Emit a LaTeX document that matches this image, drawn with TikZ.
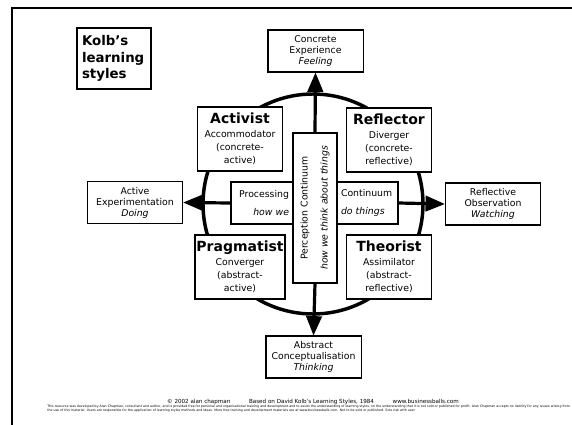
\documentclass[tikz,border=0pt]{standalone}
\usepackage{fontspec}
\setmainfont{DejaVu Sans}
\usepackage{tikz}
\usetikzlibrary{shapes,arrows,positioning}
\tikzstyle{stage} = [rectangle, draw=black, line width=1pt, fill=white, text=black, text centered, align=center, font=\fontsize{7}{8.3}\selectfont, minimum width=71.5pt, minimum height=31.5pt, inner sep=1pt]
\tikzstyle{learner} = [rectangle, draw=black, line width=1pt, fill=white, text=black, align=center, font=\fontsize{7}{10}\selectfont, minimum width=63.75pt, minimum height=48pt, inner sep=1pt]
\tikzstyle{halfbox} = [rectangle, draw=black, line width=1pt, fill=white, text=black, font=\fontsize{7}{10}\selectfont, minimum height=31.5pt, inner sep=3pt]
\tikzstyle{textonly} = [draw=none, fill=none, text centered, inner sep=0pt]
\tikzstyle{tedge}  = [draw, line width=2.4pt, >=triangle 45, ->]
\newcommand{\rolename}[1]{{\fontsize{10.5}{12}\selectfont\bfseries #1}\\}

\begin{document}
\begin{tikzpicture}[x=0.75pt, y=-0.75pt]
\useasboundingbox (0,0) rectangle (572,425);

% page frame
\draw[line width=1.5pt] (12,425) -- (12,8) -- (572,8);

% cycle ring =============================
\coordinate (hub) at (313,204);
\draw[line width=2.6pt] (hub) circle [radius=82.5pt];

% title
\node[rectangle, draw=black, line width=1pt, align=left, text width=48pt, minimum height=45.75pt, inner sep=3.75pt, font=\fontsize{10}{12.5}\selectfont\bfseries] (title) at (114,58.5) {Kolb{\char"27}s\\learning\\styles};

% stages
\node[stage] (ce) at (315.5,51) {Concrete\\Experience\\\textit{Feeling}};
\node[stage] (ae) at (135,202.5) {Active\\Experimentation\\\textit{Doing}};
\node[stage] (ro) at (493,204) {Reflective\\Observation\\\textit{Watching}};
\node[stage] (ac) at (313.5,357) {Abstract\\Conceptualisation\\\textit{Thinking}};

% learning styles
\node[learner] (activist) at (240,139) {\rolename{Activist}Accommodator\\(concrete-\\active)};
\node[learner] (reflector) at (389,140) {\rolename{Reflector}Diverger\\(concrete-\\reflective)};
\node[learner] (pragmatist) at (240,267) {\rolename{Pragmatist}Converger\\(abstract-\\active)};
\node[learner] (theorist) at (389,267) {\rolename{Theorist}Assimilator\\(abstract-\\reflective)};

% continua
\node[rectangle, draw=black, line width=1pt, fill=white, rotate=90, align=center, minimum width=112.5pt, minimum height=33pt, inner sep=1pt, font=\fontsize{7}{10}\selectfont] (perception) at (315,208) {Perception Continuum\\[5pt]\textit{how we think about things}};
\node[halfbox, align=right, text width=40.5pt] (processing) at (262,203) {Processing\\[4pt]\textit{how we}};
\node[halfbox, align=left, text width=39.75pt] (doing) at (367.5,203) {Continuum\\[4pt]\textit{do things}};

% footer
\node[textonly, font=\fontsize{4.2}{5}\selectfont] (credit) at (313,402) {\copyright{} 2002 alan chapman\hspace{14pt}Based on David Kolb{\char"27}s Learning Styles, 1984\hspace{14pt}www.businessballs.com};
\node[textonly, anchor=north west, text width=392pt, align=justify, font=\fontsize{2.4}{3.4}\selectfont] (terms) at (47,404.5) {This resource was developed by Alan Chapman, consultant and author, and is provided free for personal and organisational training and development and to assist the understanding of learning styles, on the understanding that it is not sold or published for profit. Alan Chapman accepts no liability for any issues arising from the use of this material. Users are responsible for the application of learning styles methods and ideas. More free training and development materials are at www.businessballs.com. Not to be sold or published. Sole risk with user.};

%edges
\path[tedge] (perception.east) -- (ce.south);
\path[tedge] (perception.west) -- (ac.north);
\path[tedge] (processing.west) -- (ae.east);
\path[tedge] (doing.east) -- (ro.west);

\end{tikzpicture}
\end{document}
